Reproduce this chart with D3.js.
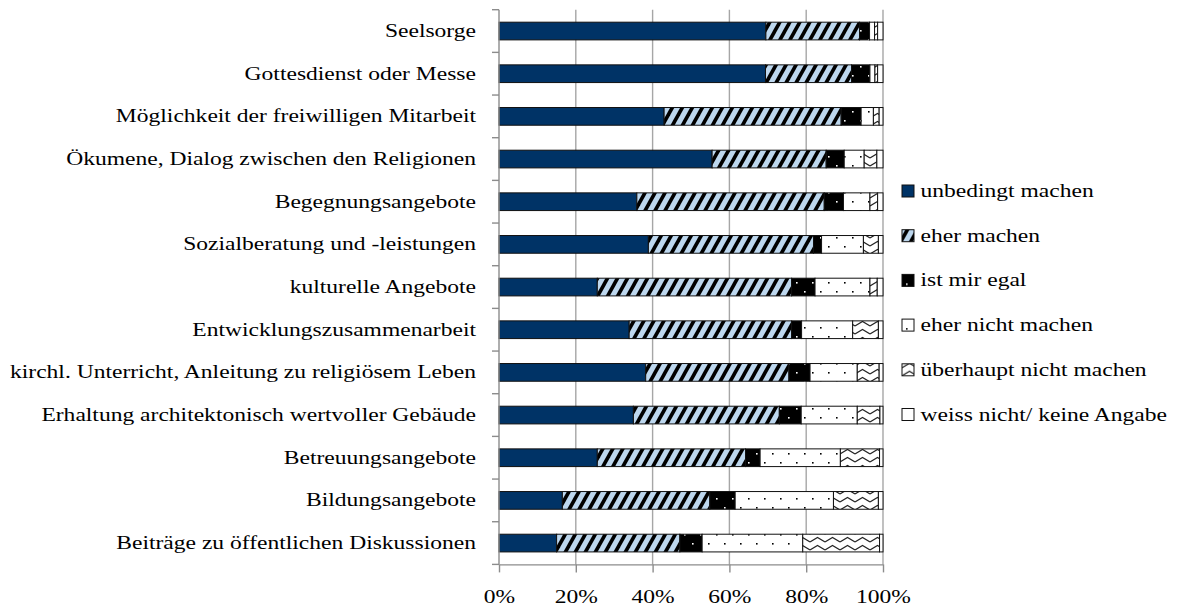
<!DOCTYPE html>
<html>
<head>
<meta charset="utf-8">
<script src="https://cdn.jsdelivr.net/npm/d3@7"></script>
<style>
  body { margin: 0; background: #fff; }
  svg text { font-family: "Liberation Serif", "Times New Roman", serif; fill: #000; }
</style>
</head>
<body>
<svg id="chart" width="1181" height="608"></svg>
<script>
// Survey answers in percent, one entry per activity (top to bottom)
const categories = [
  "Seelsorge",
  "Gottesdienst oder Messe",
  "Möglichkeit der freiwilligen Mitarbeit",
  "Ökumene, Dialog zwischen den Religionen",
  "Begegnungsangebote",
  "Sozialberatung und -leistungen",
  "kulturelle Angebote",
  "Entwicklungszusammenarbeit",
  "kirchl. Unterricht, Anleitung zu religiösem Leben",
  "Erhaltung architektonisch wertvoller Gebäude",
  "Betreuungsangebote",
  "Bildungsangebote",
  "Beiträge zu öffentlichen Diskussionen"
];
const unbedingtMachen   = [69.5, 69.4, 43.0, 55.5, 35.9, 38.9, 25.6, 33.9, 38.2, 35.0, 25.6, 16.5, 15.0];
const eherMachen        = [24.4, 22.4, 46.1, 29.7, 48.8, 43.0, 50.6, 42.3, 37.3, 38.0, 38.6, 38.4, 32.1];
const istMirEgal        = [2.6, 4.8, 5.2, 4.7, 5.0, 2.1, 6.1, 2.6, 5.5, 5.7, 3.8, 6.6, 5.8];
const eherNichtMachen   = [1.3, 1.3, 3.2, 5.2, 6.9, 10.9, 14.3, 13.3, 12.3, 14.6, 20.9, 25.6, 26.2];
const ueberhauptNicht   = [0.8, 0.7, 1.5, 3.3, 2.0, 3.9, 1.9, 6.7, 5.7, 5.9, 10.2, 11.7, 20.0];
const weissNicht        = [1.4, 1.4, 1.0, 1.6, 1.4, 1.2, 1.5, 1.2, 1.0, 0.8, 0.9, 1.2, 0.9];

const seriesNames = [
  "unbedingt machen",
  "eher machen",
  "ist mir egal",
  "eher nicht machen",
  "überhaupt nicht machen",
  "weiss nicht/ keine Angabe"
];
const tickValues = [0, 20, 40, 60, 80, 100];
const tickLabels = ["0%", "20%", "40%", "60%", "80%", "100%"];

const seriesValues = [unbedingtMachen, eherMachen, istMirEgal, eherNichtMachen, ueberhauptNicht, weissNicht];
const rows = categories.map((c, i) => {
  const r = { category: c };
  seriesNames.forEach((s, j) => { r[s] = seriesValues[j][i]; });
  return r;
});

const svg = d3.select("#chart");
const defs = svg.append("defs");

// Fill patterns
const pStripe = defs.append("pattern").attr("id", "p-stripe")
  .attr("patternUnits", "userSpaceOnUse").attr("width", 10).attr("height", 18);
pStripe.append("rect").attr("width", 10).attr("height", 18).attr("fill", "#bdd7ee");
[-10, 0, 10].forEach(o => {
  pStripe.append("polygon")
    .attr("points", `${o},18 ${o + 4.2},18 ${o + 14.2},0 ${o + 10},0`)
    .attr("fill", "#000");
});

function dotPattern(id, bg, fg) {
  const p = defs.append("pattern").attr("id", id)
    .attr("patternUnits", "userSpaceOnUse").attr("width", 16).attr("height", 18);
  p.append("rect").attr("width", 16).attr("height", 18).attr("fill", bg);
  p.append("rect").attr("x", 4).attr("y", 3).attr("width", 1.6).attr("height", 1.6).attr("fill", fg);
  p.append("rect").attr("x", 12).attr("y", 12).attr("width", 1.6).attr("height", 1.6).attr("fill", fg);
}
dotPattern("p-egal", "#000", "#fff");
dotPattern("p-nicht", "#fff", "#000");

const pZig = defs.append("pattern").attr("id", "p-zig")
  .attr("patternUnits", "userSpaceOnUse").attr("width", 15).attr("height", 8);
pZig.append("rect").attr("width", 15).attr("height", 8).attr("fill", "#fff");
pZig.append("path").attr("d", "M0,6 L7.5,1.5 L15,6")
  .attr("fill", "none").attr("stroke", "#222").attr("stroke-width", 1.1);

const fills = ["#003366", "url(#p-stripe)", "url(#p-egal)", "url(#p-nicht)", "url(#p-zig)", "#fff"];
const color = d3.scaleOrdinal().domain(seriesNames).range(fills);

// Scales
const x = d3.scaleLinear().domain([0, 100]).range([499, 883]);
const y = d3.scaleBand().domain(categories).range([9.7, 564.4]);
const barH = y.step() * 0.415;
const [y0, y1] = y.range();

// Gridlines
svg.append("g").selectAll("line").data(tickValues.slice(1)).join("line")
  .attr("x1", d => x(d)).attr("x2", d => x(d))
  .attr("y1", y0).attr("y2", y1)
  .attr("stroke", "#a6a6a6").attr("stroke-width", 1.4);

// Stacked bars
const stacked = d3.stack().keys(seriesNames)(rows);
svg.append("g").selectAll("g").data(stacked).join("g")
  .attr("fill", d => color(d.key))
  .selectAll("rect").data(d => d).join("rect")
  .attr("x", d => x(d[0]))
  .attr("width", d => x(d[1]) - x(d[0]))
  .attr("y", d => y(d.data.category) + (y.step() - barH) / 2)
  .attr("height", barH)
  .attr("stroke", "#111").attr("stroke-width", 1);

// Vertical category axis
const yAxis = svg.append("g");
yAxis.append("line").attr("x1", x(0)).attr("x2", x(0)).attr("y1", y0).attr("y2", y1)
  .attr("stroke", "#8c8c8c").attr("stroke-width", 1.4);
yAxis.selectAll("line.tick").data(categories.map(c => y(c)).concat([y1])).join("line")
  .attr("class", "tick")
  .attr("x1", x(0) - 7).attr("x2", x(0)).attr("y1", d => d).attr("y2", d => d)
  .attr("stroke", "#8c8c8c").attr("stroke-width", 1.4);

const catLabels = svg.append("g").selectAll("text").data(categories).join("text")
  .attr("x", 476)
  .attr("y", d => y(d) + y.step() / 2)
  .attr("dy", "0.32em")
  .attr("text-anchor", "end")
  .style("font-size", "19px")
  .text(d => d);

// Percentage axis
const xAxis = svg.append("g").attr("transform", `translate(0,${y1})`)
  .call(d3.axisBottom(x).tickValues(tickValues)
    .tickFormat((d, i) => tickLabels[i]).tickSize(8).tickSizeOuter(0));
xAxis.select(".domain").attr("stroke", "#8c8c8c").attr("stroke-width", 1.4);
xAxis.selectAll(".tick line").attr("stroke", "#8c8c8c").attr("stroke-width", 1.4);
xAxis.selectAll(".tick text")
  .attr("y", 25.5).attr("dy", "0.71em")
  .style("font-size", "19px").style("font-family", "'Liberation Serif', serif").attr("fill", "#000");

// Legend
const ly = d3.scalePoint().domain(seriesNames).range([191, 191 + 5 * 44.7]);
const legend = svg.append("g").selectAll("g").data(seriesNames).join("g")
  .attr("transform", d => `translate(902,${ly(d)})`);
legend.append("rect")
  .attr("x", 0).attr("y", -6).attr("width", 12).attr("height", 12)
  .attr("fill", d => color(d)).attr("stroke", "#111").attr("stroke-width", 1);
const legendText = legend.append("text")
  .attr("x", 18.5).attr("y", 0).attr("dy", "0.32em")
  .style("font-size", "19px")
  .text(d => d);

// Widen the serif text to the proportions of a book face
const ref = catLabels.filter(d => d.startsWith("kirchl.")).node();
const k = 466 / ref.getComputedTextLength();
function widen(sel) {
  sel.each(function () {
    const w = this.getComputedTextLength();
    d3.select(this).attr("textLength", w * k).attr("lengthAdjust", "spacingAndGlyphs");
  });
}
widen(catLabels);
widen(legendText);
widen(xAxis.selectAll(".tick text"));
</script>
</body>
</html>
